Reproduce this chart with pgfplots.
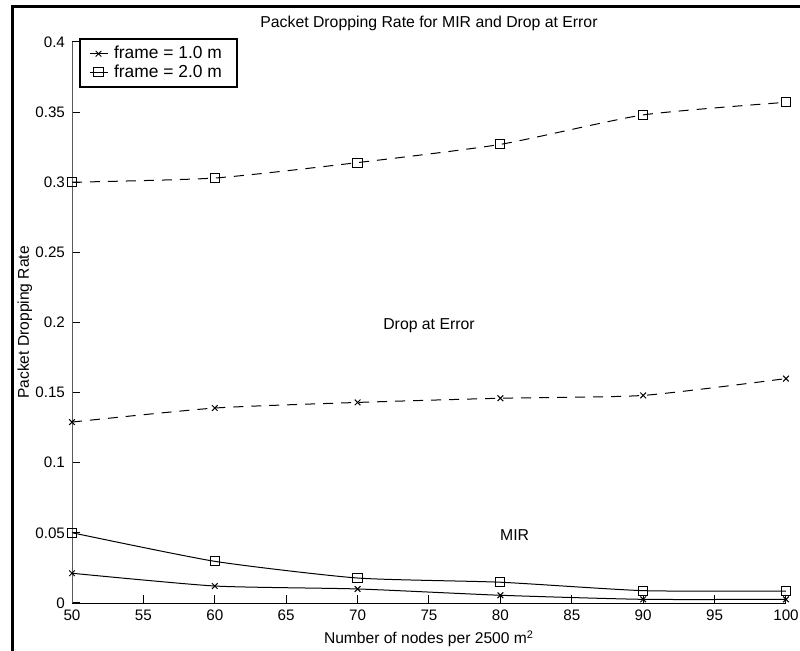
\documentclass[border=0pt]{standalone}
\usepackage{pgfplots}
\pgfplotsset{compat=1.18}
\usepackage{fontspec}
\setmainfont{Liberation Sans}

\begin{document}
\begin{tikzpicture}[x=1pt,y=1pt]
\useasboundingbox (0,0) rectangle (400,325.5);
% outer frame (top and left only)
\draw[line width=1.5pt] (6,0) -- (6,322) -- (400,322);
\begin{axis}[
    at={(36pt,24pt)},
    anchor=south west,
    scale only axis,
    width=357pt,
    height=280.5pt,
    xmin=50, xmax=100,
    ymin=0, ymax=0.4,
    axis x line*=bottom,
    axis y line*=left,
    y axis line style={gray!70!black},
    tick align=inside,
    major tick length=4pt,
    xtick={50,55,...,100},
    ytick={0,0.05,...,0.4},
    scaled y ticks=false,
    yticklabel style={/pgf/number format/fixed, /pgf/number format/precision=2},
    tick label style={font=\fontsize{7.6}{9}\selectfont, /pgf/number format/assume math mode=true},
    xtick style={black, line width=0.5pt},
    ytick style={black, line width=0.5pt},
    title={Packet Dropping Rate for MIR and Drop at Error},
    title style={font=\fontsize{7.9}{9}\selectfont, yshift=-4pt},
    xlabel={Number of nodes per 2500 m$^{\mathrm{2}}$},
    ylabel={Packet Dropping Rate},
    every axis x label/.style={at={(axis description cs:0.5,-0.064)}, anchor=center,
        font=\fontsize{7.8}{9}\selectfont},
    every axis y label/.style={at={(axis description cs:-0.066,0.5)}, anchor=center, rotate=90,
        font=\fontsize{7.8}{9}\selectfont},
    legend style={font=\fontsize{8.7}{9}\selectfont, at={(0.01,1.007)}, anchor=north west,
        draw=black, line width=0.9pt, inner xsep=4.5pt, inner ysep=1.5pt, row sep=-2.5pt,
        nodes={inner xsep=3pt, inner ysep=2pt}},
    legend image code/.code={
        \draw[mark repeat=2, mark phase=2, #1, solid]
            plot coordinates {(0pt,0pt) (4.5pt,0pt) (9pt,0pt)};
    },
    legend cell align=left,
    every axis plot/.append style={line width=0.5pt, black},
    clip=false,
]
% Drop at Error, frame = 1.0 m
\addplot[smooth, tension=0.35, dash pattern=on 5pt off 4pt, mark=x, mark size=2pt,
    mark options={solid}] coordinates {
    (50,0.129) (60,0.139) (70,0.143) (80,0.146) (90,0.148) (100,0.160)
};
\addlegendentry{frame = 1.0 m}
% Drop at Error, frame = 2.0 m
\addplot[smooth, tension=0.35, dash pattern=on 5pt off 4pt, mark=square, mark size=2.3pt,
    mark options={solid}] coordinates {
    (50,0.300) (60,0.303) (70,0.314) (80,0.327) (90,0.348) (100,0.357)
};
\addlegendentry{frame = 2.0 m}
% MIR, frame = 1.0 m
\addplot[smooth, tension=0.35, solid, mark=x, mark size=2pt, forget plot] coordinates {
    (50,0.0212) (60,0.0121) (70,0.0100) (80,0.0055) (90,0.0026) (100,0.0026)
};
% MIR, frame = 2.0 m
\addplot[smooth, tension=0.35, solid, mark=square, mark size=2.3pt, forget plot] coordinates {
    (50,0.0501) (60,0.0297) (70,0.0178) (80,0.0148) (90,0.0088) (100,0.0085)
};
\node[font=\fontsize{7.9}{9}\selectfont] at (axis cs:75,0.198) {Drop at Error};
\node[font=\fontsize{7.9}{9}\selectfont] at (axis cs:81,0.0485) {MIR};
\end{axis}
\end{tikzpicture}
\end{document}
